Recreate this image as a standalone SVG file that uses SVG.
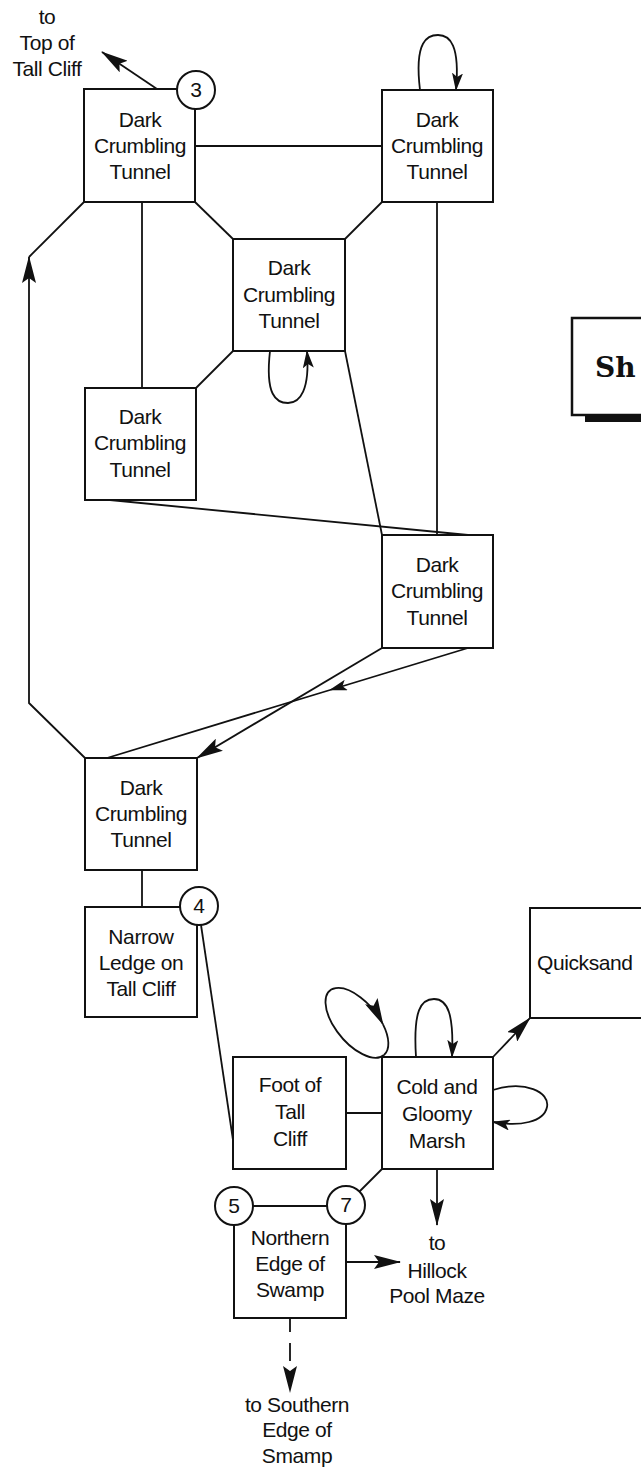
<svg xmlns="http://www.w3.org/2000/svg" width="641" height="1474" viewBox="0 0 641 1474">
<style>
.box{fill:#fff;stroke:#111;stroke-width:2}
.ln{fill:none;stroke:#111;stroke-width:1.8}
.t{font-family:"Liberation Sans",Arial,sans-serif;font-size:21px;letter-spacing:-0.4px;fill:#111;text-anchor:middle}
.circ{fill:#fff;stroke:#111;stroke-width:2}
</style>
<defs>
<marker id="big" markerUnits="userSpaceOnUse" markerWidth="27" markerHeight="14" viewBox="0 0 27 14" refX="26" refY="7" orient="auto">
<path d="M0,0 L27,7 L0,14 L5,7 Z" fill="#111"/>
</marker>
<marker id="sm" markerUnits="userSpaceOnUse" markerWidth="18" markerHeight="11" viewBox="0 0 18 11" refX="17" refY="5.5" orient="auto">
<path d="M0,0 L18,5.5 L0,11 L4,5.5 Z" fill="#111"/>
</marker>
</defs>
<rect width="641" height="1474" fill="#fff"/>
<g id="connectors">
<path class="ln" d="M84,202 L29,257"/>
<path class="ln" d="M85,758 L29,703 L29,257" marker-end="url(#big)"/>
<path class="ln" d="M142,202 V388"/>
<path class="ln" d="M195,146 H382"/>
<path class="ln" d="M195,202 L233,239"/>
<path class="ln" d="M382,202 L345,239"/>
<path class="ln" d="M437,202 V535"/>
<path class="ln" d="M233,351 L196,388"/>
<path class="ln" d="M345,351 L382,535"/>
<path class="ln" d="M110,500 L468,535"/>
<path class="ln" d="M382,648 L197,758" marker-end="url(#big)"/>
<path class="ln" d="M468,648 L330,690" marker-end="url(#sm)"/>
<path class="ln" d="M330,690 L107,758"/>
<path class="ln" d="M142,870 V907"/>
<path class="ln" d="M157,89 L102,52" marker-end="url(#big)"/>
<path class="ln" d="M201,925 L233,1140"/>
<path class="ln" d="M346,1113 H382"/>
<path class="ln" d="M382,1169 L346,1205"/>
<path class="ln" d="M493,1057 L530,1018" marker-end="url(#big)"/>
<path class="ln" d="M437,1169 V1225" marker-end="url(#big)"/>
<path class="ln" d="M346,1262 H400" marker-end="url(#big)"/>
<path class="ln" d="M290,1318 V1392" stroke-dasharray="14 11 18 100" marker-end="url(#big)"/>
<path class="ln" d="M420,90 C414,40 428,35 438,35 C450,35 460,45 456,90" marker-end="url(#sm)"/>
<path class="ln" d="M270,351 C265,395 276,403 288,403 C300,403 310,390 307,351" marker-end="url(#sm)"/>
<path class="ln" d="M384,1055 A42,21 50 1,1 383,1024.4" marker-end="url(#big)"/>
<path class="ln" d="M383,1024.4 A42,21 50 0,1 384,1055"/>
<path class="ln" d="M416,1057 C413,1010 421,999 434,999 C448,999 454,1015 452,1057" marker-end="url(#sm)"/>
<path class="ln" d="M493,1090 C525,1080 550,1092 547,1107 C544,1122 520,1127 493,1122" marker-end="url(#sm)"/>
</g>
<g id="label-top">
<text class="t"><tspan x="47" y="24">to</tspan><tspan x="47" y="50">Top of</tspan><tspan x="47" y="76">Tall Cliff</tspan></text>
</g>
<g id="n1"><rect class="box" x="84" y="89" width="111" height="113"/><text class="t"><tspan x="140" y="127">Dark</tspan><tspan x="140" y="153">Crumbling</tspan><tspan x="140" y="179">Tunnel</tspan></text></g>
<g id="n2"><rect class="box" x="382" y="90" width="111" height="112"/><text class="t"><tspan x="437" y="127">Dark</tspan><tspan x="437" y="153">Crumbling</tspan><tspan x="437" y="179">Tunnel</tspan></text></g>
<g id="n3"><rect class="box" x="233" y="239" width="112" height="112"/><text class="t"><tspan x="289" y="275">Dark</tspan><tspan x="289" y="302">Crumbling</tspan><tspan x="289" y="328">Tunnel</tspan></text></g>
<g id="n4"><rect class="box" x="85" y="388" width="111" height="112"/><text class="t"><tspan x="140" y="424">Dark</tspan><tspan x="140" y="450">Crumbling</tspan><tspan x="140" y="477">Tunnel</tspan></text></g>
<g id="n5"><rect class="box" x="382" y="535" width="111" height="113"/><text class="t"><tspan x="437" y="572">Dark</tspan><tspan x="437" y="598">Crumbling</tspan><tspan x="437" y="625">Tunnel</tspan></text></g>
<g id="n6"><rect class="box" x="85" y="758" width="112" height="112"/><text class="t"><tspan x="141" y="795">Dark</tspan><tspan x="141" y="821">Crumbling</tspan><tspan x="141" y="847">Tunnel</tspan></text></g>
<g id="n7"><rect class="box" x="85" y="907" width="112" height="110"/><text class="t"><tspan x="141" y="944">Narrow</tspan><tspan x="141" y="970">Ledge on</tspan><tspan x="141" y="996">Tall Cliff</tspan></text></g>
<g id="n8"><rect class="box" x="233" y="1057" width="113" height="112"/><text class="t"><tspan x="290" y="1092">Foot of</tspan><tspan x="290" y="1119">Tall</tspan><tspan x="290" y="1146">Cliff</tspan></text></g>
<g id="n9"><rect class="box" x="382" y="1057" width="111" height="112"/><text class="t"><tspan x="437" y="1094">Cold and</tspan><tspan x="437" y="1121">Gloomy</tspan><tspan x="437" y="1148">Marsh</tspan></text></g>
<g id="n10"><rect class="box" x="530" y="908" width="120" height="110"/><text class="t" style="text-anchor:start" x="537" y="970">Quicksand</text></g>
<g id="n11"><rect class="box" x="234" y="1206" width="112" height="112"/><text class="t"><tspan x="290" y="1245">Northern</tspan><tspan x="290" y="1271">Edge of</tspan><tspan x="290" y="1297">Swamp</tspan></text></g>
<g id="n12"><rect x="585" y="414" width="60" height="8" fill="#111"/><rect class="box" x="572" y="318" width="80" height="97" style="stroke-width:2.5"/><text x="595" y="377" style="font-family:'DejaVu Serif','Liberation Serif',serif;font-size:28px;font-weight:bold;fill:#111">Sh</text></g>
<g id="label-hillock"><text class="t"><tspan x="437" y="1250">to</tspan><tspan x="437" y="1278">Hillock</tspan><tspan x="437" y="1303">Pool Maze</tspan></text></g>
<g id="label-south"><text class="t"><tspan x="297" y="1412">to Southern</tspan><tspan x="297" y="1437">Edge of</tspan><tspan x="297" y="1463">Smamp</tspan></text></g>
<g id="c3"><circle class="circ" cx="196" cy="90" r="19"/><text class="t" x="196" y="97">3</text></g>
<g id="c4"><circle class="circ" cx="199" cy="906" r="19"/><text class="t" x="199" y="913">4</text></g>
<g id="c5"><circle class="circ" cx="234" cy="1206" r="19"/><text class="t" x="234" y="1213">5</text></g>
<g id="c7"><circle class="circ" cx="346" cy="1205" r="19"/><text class="t" x="346" y="1212">7</text></g>
</svg>
